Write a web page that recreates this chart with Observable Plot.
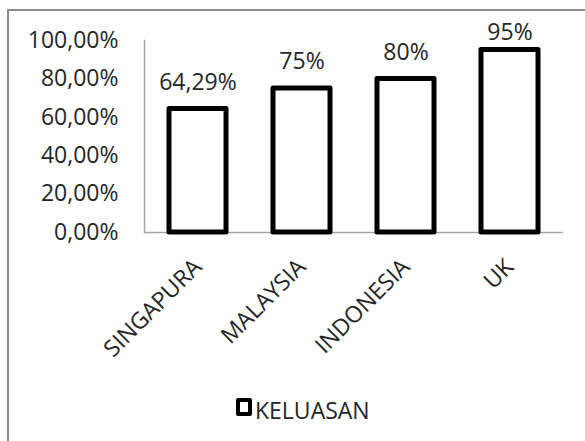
<!DOCTYPE html>
<html>
<head>
<meta charset="utf-8">
<script src="https://cdn.jsdelivr.net/npm/d3@7"></script>
<script src="https://cdn.jsdelivr.net/npm/@observablehq/plot@0.6"></script>
<style>
  html, body { margin: 0; padding: 0; background: #fff; }
  #chart {
    position: relative;
    width: 585px;
    height: 441px;
    overflow: hidden;
    font-family: "Open Sans", sans-serif;
    color: #262626;
  }
  #chart svg { display: block; }
  /* chart-area outline: only its left and top edges fall inside the page */
  #outline {
    position: absolute;
    left: 7px;
    top: 9px;
    width: 700px;
    height: 700px;
    border: 2px solid #8c8c8c;
    pointer-events: none;
  }
  .legend {
    display: flex;
    align-items: flex-start;
    padding: 12px 0 0 236px;
    font-size: 23px;
    line-height: 26px;
  }
  .legend .swatch {
    box-sizing: border-box;
    width: 16px;
    height: 18px;
    border: 4.5px solid #000;
    border-radius: 2px;
    background: #fff;
    margin: 1px 3px 0 0;
  }
</style>
</head>
<body>
<div id="chart"><div id="outline"></div></div>
<script>
// Share of KELUASAN by country
const countries = ["SINGAPURA", "MALAYSIA", "INDONESIA", "UK"];
const keluasan = [64.29, 75, 80, 95];
const yTicks = [0, 20, 40, 60, 80, 100];
const seriesName = "KELUASAN";

const rows = countries.map((country, i) => ({country, value: keluasan[i]}));

// 100,00% style for the axis, 64,29% / 75% style for the value labels
const axisFormat = (v) => v.toFixed(2).replace(".", ",") + "%";
const valueFormat = (v) =>
  (Number.isInteger(v) ? String(v) : v.toFixed(2).replace(".", ",")) + "%";

const plot = Plot.plot({
  width: 585,
  height: 385,
  marginLeft: 144,
  marginRight: 22,
  marginTop: 40,
  marginBottom: 153,
  style: {fontFamily: "Open Sans, sans-serif", fontSize: "23px", color: "#262626", background: "transparent"},
  x: {domain: countries, paddingInner: 0.45, paddingOuter: 0.225, axis: null},
  y: {domain: [0, 100], axis: null},
  marks: [
    Plot.frame({anchor: "left", stroke: "#a6a6a6", strokeWidth: 1.5}),
    Plot.ruleY([0], {stroke: "#a6a6a6", strokeWidth: 1.5}),
    Plot.axisY({
      ticks: yTicks,
      tickSize: 0,
      tickPadding: 26,
      tickFormat: axisFormat,
      fontSize: 23,
      fill: "#262626",
      label: null
    }),
    Plot.barY(rows, {
      x: "country",
      y: "value",
      fill: "white",
      stroke: "black",
      strokeWidth: 5,
      strokeLinejoin: "round"
    }),
    // value labels sit above each bar, held inside the plot area at the top
    Plot.text(rows, {
      x: "country",
      y: (d) => Math.min(d.value + 10, 100.5),
      text: (d) => valueFormat(d.value),
      lineAnchor: "bottom",
      fontSize: 23,
      fill: "#262626"
    }),
    // rotated category labels under the baseline
    Plot.text(countries, {
      x: (d) => d,
      frameAnchor: "bottom",
      rotate: -45,
      textAnchor: "end",
      lineAnchor: "bottom",
      dx: 5,
      dy: 36,
      fontSize: 23,
      fill: "#262626"
    })
  ]
});

const chart = document.getElementById("chart");
chart.insertBefore(plot, chart.firstChild);

const legend = document.createElement("div");
legend.className = "legend";
legend.innerHTML = `<span class="swatch"></span><span>${seriesName}</span>`;
chart.insertBefore(legend, document.getElementById("outline"));
</script>
</body>
</html>
